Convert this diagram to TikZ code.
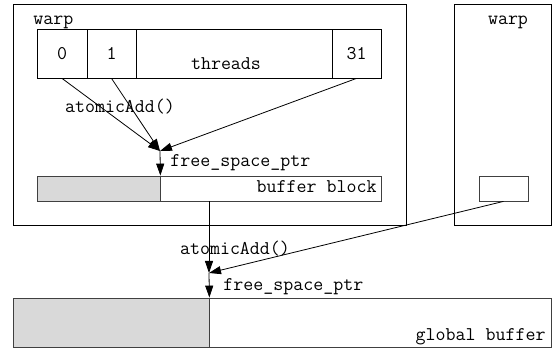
\documentclass[tikz,border=0pt]{standalone}
\usepackage{fontspec}
\usetikzlibrary{arrows.meta}
\begin{document}
\begin{tikzpicture}[x=1pt,y=-1pt,>={Triangle[length=12pt,width=8pt]},line width=.8pt,
  font=\fontsize{19.4}{22}\selectfont\ttfamily]
  \tikzstyle{box}=[rectangle,draw,inner sep=0pt]
  \tikzstyle{used}=[rectangle,draw=black!75,fill=black!15,inner sep=0pt]
  \tikzstyle{free}=[rectangle,draw=black!75,fill=white,inner sep=0pt]
  \useasboundingbox (0,0) rectangle (552,352);
  % first warp
  \node(warp-a) at (209.5,114.5)[box,minimum width=393,minimum height=221]{};
  \node(warp-a-l) at (33,25)[anchor=base west,inner sep=0pt]{warp};
  \node(t-0) at (62,53.5)[box,minimum width=50,minimum height=49]{0};
  \node(t-1) at (111.5,53.5)[box,minimum width=49,minimum height=49]{1};
  \node(t-mid) at (234,53.5)[box,minimum width=196,minimum height=49]{};
  \node(t-31) at (356.5,53.5)[box,minimum width=49,minimum height=49]{31};
  \node(t-l) at (226,70)[anchor=base,inner sep=0pt]{threads};
  \coordinate(ptr-a) at (160,151);
  \node(add-a) at (120,113)[anchor=base,inner sep=0pt]{atomicAdd()};
  \node(blk) at (209,188.5)[free,minimum width=344,minimum height=25]{};
  \node(blk-used) at (98.5,188.5)[used,minimum width=123,minimum height=25]{};
  \node(blk-l) at (377,193)[anchor=base east,inner sep=0pt]{buffer block};
  \node(ptr-a-l) at (170,167)[anchor=base west,inner sep=0pt]{free\_space\_ptr};
  \draw[->](t-0.south)--(ptr-a);
  \draw[->](t-1.south)--(ptr-a);
  \draw[->](t-31.south)--(ptr-a);
  \draw[->](ptr-a)--(blk-used.north east);
  % second warp
  \node(warp-b) at (502.5,114.5)[box,minimum width=97,minimum height=221]{};
  \node(warp-b-l) at (508,25)[anchor=base,inner sep=0pt]{warp};
  \node(blk-b) at (503.5,188.5)[free,minimum width=49,minimum height=25]{};
  % global buffer
  \node(gbuf) at (282,322.5)[free,minimum width=538,minimum height=49]{};
  \node(gbuf-used) at (111,322.5)[used,minimum width=196,minimum height=49]{};
  \node(gbuf-l) at (546,341)[anchor=base east,inner sep=0pt]{global buffer};
  \coordinate(ptr-b) at (209,273);
  \node(add-b) at (235,255)[anchor=base,inner sep=0pt]{atomicAdd()};
  \node(ptr-b-l) at (223,291)[anchor=base west,inner sep=0pt]{free\_space\_ptr};
  \draw[->](blk.south)--(ptr-b);
  \draw[->](blk-b.south)--(ptr-b);
  \draw[->](ptr-b)--(gbuf-used.north east);
\end{tikzpicture}
\end{document}
